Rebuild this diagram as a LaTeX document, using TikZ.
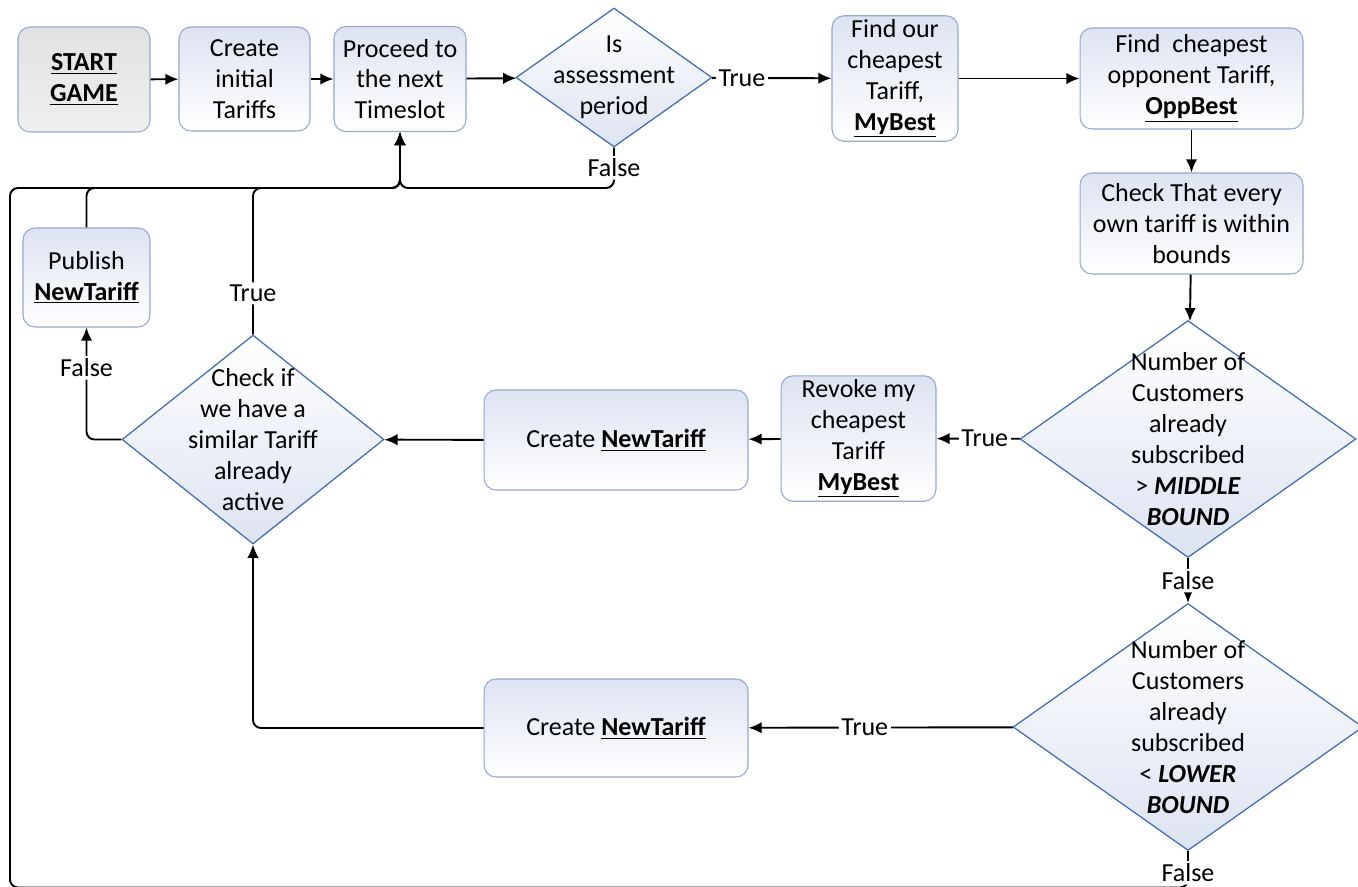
\documentclass[tikz,border=0pt]{standalone}
\usepackage{fontspec}
\setmainfont{Carlito}
\usetikzlibrary{shapes.geometric,arrows.meta}

\definecolor{boxline}{RGB}{150,168,205}
\definecolor{askline}{RGB}{65,105,180}
\definecolor{tint}{RGB}{221,227,241}
\definecolor{startgray}{RGB}{226,226,228}

\newcommand\keyw[1]{\underline{\textbf{#1}}}

\begin{document}
\begin{tikzpicture}[x=0.02cm, y=-0.02cm]
\tikzset{ >={Latex[length=7.5pt,width=6.5pt]},
  txt/.style={font=\fontsize{14.8}{17.6}\selectfont, align=center},
  box/.style={txt, draw=boxline, line width=0.6pt, rounded corners=0.24cm,
              top color=tint, bottom color=white, inner sep=2pt},
  ask/.style={diamond, draw=askline, line width=0.7pt, inner sep=0pt,
              top color=white, bottom color=tint},
  lbl/.style={txt, fill=white, inner sep=1.5pt},
  flow/.style={->, line width=1.1pt, rounded corners=0.16cm},
}
\useasboundingbox (0,0) rectangle (1358,886);
%\draw [lightgray, dashed] (0,0) grid[step=100] (1358,886);

% top row
\node [box, top color=startgray, bottom color=startgray!55!white,
       minimum width=2.64cm, minimum height=2.1cm] (start) at (84,79.5)
      {\keyw{START}\\\keyw{GAME}};
\node [box, minimum width=2.62cm, minimum height=2.08cm] (init) at (244.5,79)
      {Create\\initial\\Tariffs};
\node [box, minimum width=2.64cm, minimum height=2.1cm] (proceed) at (400,79)
      {Proceed to\\the next\\Timeslot};
\node [ask, minimum width=3.92cm, minimum height=2.78cm] (isq) at (614,77.5) {};
\node [txt] (isq-t) at (isq) {Is\\assessment\\period};
\node [box, minimum width=2.52cm, minimum height=2.46cm] (ourbest) at (895,78.5)
      {Find our\\cheapest\\Tariff,\\\keyw{MyBest}};
\node [box, minimum width=4.46cm, minimum height=2.02cm] (oppbest) at (1191.5,78.5)
      {Find~ cheapest\\opponent Tariff,\\\keyw{OppBest}};

% right column
\node [box, minimum width=4.46cm, minimum height=2.02cm] (bounds) at (1191.5,223.5)
      {Check That every\\own tariff is within\\bounds};
\node [ask, minimum width=6.72cm, minimum height=4.74cm] (midq) at (1188,439) {};
\node [txt] (midq-t) at (midq)
      {Number of\\Customers\\already\\subscribed\\> \textbf{\textit{MIDDLE}}\\\textbf{\textit{BOUND}}};
\node [ask, minimum width=7cm, minimum height=4.94cm] (lowq) at (1188,727) {};
\node [txt] (lowq-t) at (lowq)
      {Number of\\Customers\\already\\subscribed\\< \textbf{\textit{LOWER}}\\\textbf{\textit{BOUND}}};

% middle and left
\node [box, minimum width=3.1cm, minimum height=2.46cm] (revoke) at (858.5,438.5)
      {Revoke my\\cheapest\\Tariff\\\keyw{MyBest}};
\node [box, minimum width=5.28cm, minimum height=2cm] (newup) at (616,440)
      {Create \keyw{NewTariff}};
\node [box, minimum width=5.28cm, minimum height=1.96cm] (newlow) at (616,728)
      {Create \keyw{NewTariff}};
\node [ask, minimum width=5.24cm, minimum height=4.18cm] (ifq) at (253,439.5) {};
\node [txt] (ifq-t) at (ifq) {Check if\\we have a\\similar Tariff\\already\\active};
\node [box, minimum width=2.54cm, minimum height=1.98cm] (publish) at (86.5,277.5)
      {Publish\\\keyw{NewTariff}};

\coordinate (jn) at (400,188);
\coordinate (corner) at (10,887.5);

\draw [flow] (start) -- (init);
\draw [flow] (init) -- (proceed);
\draw [flow] (proceed) -- (isq);
\draw [flow] (isq) -- node[lbl, pos=.25] {True} (ourbest);
\draw [flow] (ourbest) -- (oppbest);
\draw [flow] (oppbest) -- (bounds);
\draw [flow] (bounds) -- (midq);
\draw [flow] (midq) -- node[lbl, pos=.42] {True} (revoke);
\draw [flow] (revoke) -- (newup);
\draw [flow] (newup) -- (ifq);
\draw [flow] (midq) -- node[lbl] {False} (lowq);
\draw [flow] (lowq) -- node[lbl, pos=.56] {True} (newlow);
\draw [flow] (newlow) -| (ifq);
\draw [flow] (ifq) -| node[lbl, pos=.82] {False} (publish);

% back to the next timeslot
\draw [flow] (isq) |- node[lbl, pos=.25] {False} (jn) -- (proceed);
\draw [flow] (ifq) |- node[lbl, pos=.14] {True} (jn) -- (proceed);
\draw [flow] (publish) |- (jn) -- (proceed);
\draw [flow] (lowq) |- node[lbl, pos=.3] {False} (corner) |- (jn) -- (proceed);

\end{tikzpicture}
\end{document}
